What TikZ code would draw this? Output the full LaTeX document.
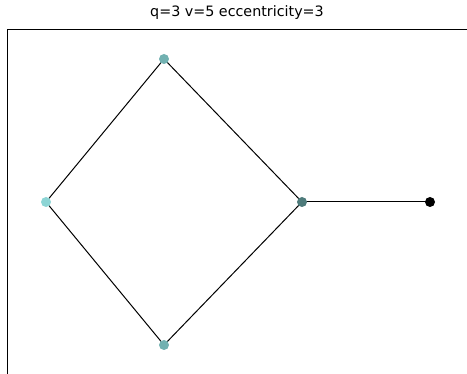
\documentclass[tikz,border=0pt]{standalone}
\usepackage{fontspec}
\setmainfont{DejaVu Sans}
\definecolor{ctb}{HTML}{72B1B1}
\definecolor{cl}{HTML}{8DD5D5}
\definecolor{cm}{HTML}{4E7B7B}
\begin{document}
\begin{tikzpicture}[x=1pt,y=-1pt,
  vtx/.style={circle,inner sep=0pt,minimum size=10pt,draw=none},
  edge/.style={black,line width=1pt}]
\useasboundingbox (0,0) rectangle (467,374);
\draw[line width=0.8pt] (7,374) -- (7,29) -- (467,29);
\node[font=\fontsize{14.3}{16}\selectfont] (title) at (237,13) {q=3 v=5 eccentricity=3};
\coordinate (pt) at (164,59);
\coordinate (pl) at (46,202);
\coordinate (pm) at (302,202);
\coordinate (pr) at (430,202);
\coordinate (pb) at (164,345);
\draw[edge] (pt) -- (pl) -- (pb) -- (pm) -- (pt);
\draw[edge] (pm) -- (pr);
\node[vtx,fill=ctb] (t) at (pt) {};
\node[vtx,fill=cl] (l) at (pl) {};
\node[vtx,fill=cm] (m) at (pm) {};
\node[vtx,fill=black] (r) at (pr) {};
\node[vtx,fill=ctb] (b) at (pb) {};
\end{tikzpicture}
\end{document}
